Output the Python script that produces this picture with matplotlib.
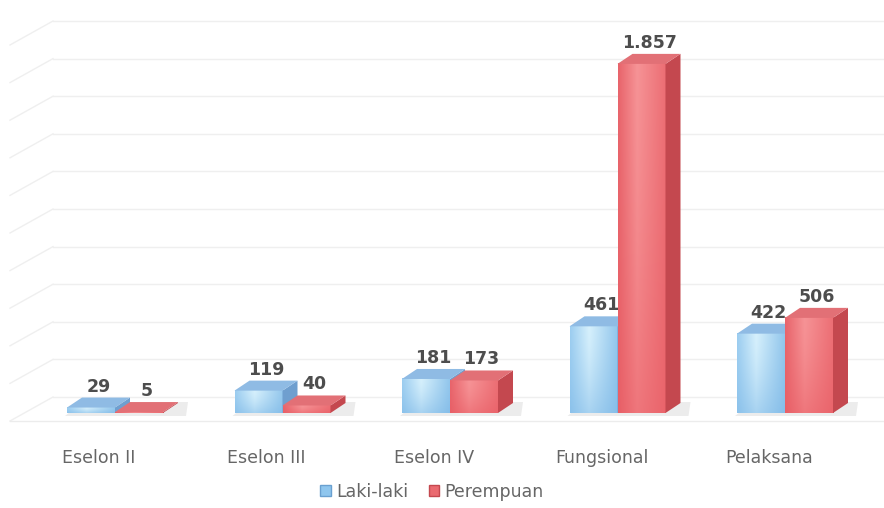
import matplotlib
matplotlib.use("Agg")
import matplotlib.pyplot as plt
import numpy as np
from matplotlib.patches import Polygon, Patch
from matplotlib.colors import to_rgb

categories = ["Eselon II", "Eselon III", "Eselon IV", "Fungsional", "Pelaksana"]
laki = [29, 119, 181, 461, 422]
perempuan = [5, 40, 173, 1857, 506]
value_labels_laki = ["29", "119", "181", "461", "422"]
value_labels_perempuan = ["5", "40", "173", "1.857", "506"]
series_names = ["Laki-laki", "Perempuan"]
grid_values = list(range(0, 2001, 200))

W, H = 884, 508
fig = plt.figure(figsize=(W / 100, H / 100), dpi=100)
ax = fig.add_axes([0, 0, 1, 1])
ax.set_axis_off()

spacing_px = 167.5
x0_px = 115.0
y0_px = 413.0
ppu = 0.188
xl = ((0 - x0_px) / spacing_px, (W - x0_px) / spacing_px)
yl = (-(H - y0_px) / ppu, y0_px / ppu)

def px_x(p):
    return p / spacing_px

def px_y(p):
    return p / ppu

bw = px_x(48)
ddx = px_x(15)
ddy = px_y(10)

wall_dx = px_x(43)
wall_dy = px_y(24)
front_dy = px_y(-8)
left = xl[0] + px_x(10)
right = xl[1]
grid_col = "#efefef"
for v in grid_values:
    yb = v + front_dy + wall_dy
    ax.plot([left + wall_dx, right], [yb, yb], color=grid_col, lw=1.0, zorder=1)
    ax.plot([left, left + wall_dx], [v + front_dy, yb], color=grid_col, lw=1.0, zorder=1)
ax.plot([left, right], [front_dy, front_dy], color="#ececec", lw=1.0, zorder=1)


def make_grad(c_left, c_mid, c_right, c_bottom, n=64):
    xs = np.linspace(0, 1, n)
    cl, cm, cr, cb = [np.array(to_rgb(c)) for c in (c_left, c_mid, c_right, c_bottom)]
    row = np.empty((n, 3))
    for k, t in enumerate(xs):
        if t < 0.4:
            f = t / 0.4
            row[k] = cl * (1 - f) + cm * f
        else:
            f = (t - 0.4) / 0.6
            row[k] = cm * (1 - f) + cr * f
    img = np.empty((n, n, 3))
    for j in range(n):
        g = (j / (n - 1)) ** 1.5 * 0.5  # j=0 top row
        img[j] = row * (1 - g) + cb * g
    return img

blue_img = make_grad("#9ccdf0", "#d6f0fc", "#92c6ec", "#7ab6e6")
red_img = make_grad("#e8646b", "#f69396", "#ec6e74", "#e85a62")


def draw_bar(xl_, h, img, top_col, side_col, z):
    xr = xl_ + bw
    sh = Polygon([(xl_ - px_x(2), px_y(-3)), (xr + ddx + px_x(8), px_y(-3)),
                  (xr + ddx + px_x(10), ddy + px_y(1)), (xl_ + ddx, ddy + px_y(1))],
                 closed=True, facecolor="#ececec", edgecolor="none", zorder=z - 0.5)
    ax.add_patch(sh)
    ax.imshow(img, extent=[xl_, xr, 0, h], aspect="auto", zorder=z, interpolation="bilinear")
    side = Polygon([(xr, 0), (xr + ddx, ddy), (xr + ddx, h + ddy), (xr, h)], closed=True,
                   facecolor=side_col, edgecolor="none", zorder=z + 0.1)
    ax.add_patch(side)
    top = Polygon([(xl_, h), (xr, h), (xr + ddx, h + ddy), (xl_ + ddx, h + ddy)], closed=True,
                  facecolor=top_col, edgecolor="none", zorder=z + 0.1)
    ax.add_patch(top)

for i, (a, b) in enumerate(zip(laki, perempuan)):
    z = 3 + i
    draw_bar(i - bw, a, blue_img, "#8fbbe4", "#6f9fcf", z)
    draw_bar(i, b, red_img, "#e27076", "#c4484f", z + 0.3)

lab_col = "#4d4d4d"
for i, (a, b) in enumerate(zip(laki, perempuan)):
    ax.annotate(value_labels_laki[i], (i - bw / 2 + ddx / 2, a), xytext=(0, 21),
                textcoords="offset pixels", ha="center", va="center", fontsize=12.5,
                fontweight="bold", color=lab_col, zorder=20, family="DejaVu Sans")
    ax.annotate(value_labels_perempuan[i], (i + bw / 2 + ddx / 2, b), xytext=(0, 21),
                textcoords="offset pixels", ha="center", va="center", fontsize=12.5,
                fontweight="bold", color=lab_col, zorder=20, family="DejaVu Sans")
    ax.text(i - px_x(16), yl[1] - px_y(458), categories[i], ha="center", va="center",
            fontsize=12.5, color="#666666", family="DejaVu Sans")

ax.set_xlim(*xl)
ax.set_ylim(*yl)

handles = [Patch(facecolor="#8fc6ee", edgecolor="#6aa0d0"),
           Patch(facecolor="#ea6a70", edgecolor="#c4484f")]
fig.legend(handles, series_names, loc="center", bbox_to_anchor=(432 / W, 1 - 492 / H),
           ncol=2, frameon=False, fontsize=12.5, handlelength=0.6, handleheight=0.6,
           handletextpad=0.3, columnspacing=1.2, labelcolor="#666666")

fig.savefig("out.png", dpi=100, facecolor="white")
